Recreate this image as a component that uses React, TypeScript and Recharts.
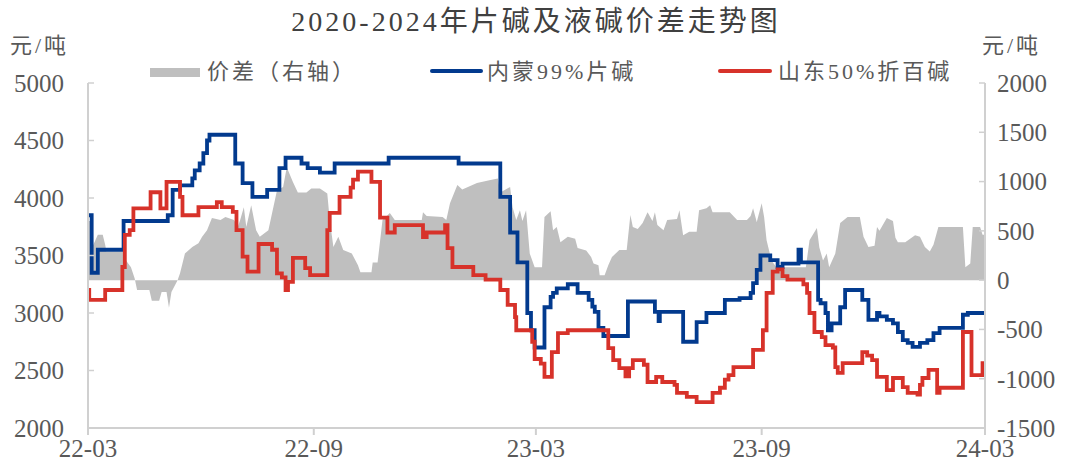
import { ComposedChart, Area, Line, XAxis, YAxis } from "recharts";

// days since 2022-03-01
const tickDays = [0, 184, 365, 549, 731];
const tickLabels = ["22-03", "22-09", "23-03", "23-09", "24-03"];
const leftTicks = [2000, 2500, 3000, 3500, 4000, 4500, 5000];
const rightTicks = [-1500, -1000, -500, 0, 500, 1000, 1500, 2000];

// 内蒙99%片碱 (元/吨)
const neimengDays = [
  0, 3, 8, 29, 65, 69, 75, 85, 87, 91, 94, 97, 99, 120, 126, 134, 146, 156, 161, 174,
  179, 189, 201, 245, 302, 336, 344, 350, 358, 361, 364, 372, 377, 379, 382, 391, 399, 408, 411, 413,
  416, 420, 440, 462, 465, 466, 485, 496, 504, 519, 531, 540, 542, 545, 548, 556, 562, 566, 579, 581,
  595, 597, 601, 603, 606, 613, 617, 631, 636, 643, 645, 651, 656, 660, 664, 668, 672, 678, 684, 689,
  694, 713, 717, 731,
];
const neimengPrice = [
  3850, 3350, 3550, 3800, 3850, 4070, 4110, 4170, 4240, 4300, 4390, 4500, 4550, 4300, 4130, 4010, 4070, 4260, 4350, 4300,
  4260, 4220, 4300, 4350, 4300, 4010, 3700, 3440, 3000, 2850, 2700, 3050, 3140, 3175, 3215, 3250, 3175, 3115, 3055, 3010,
  2870, 2800, 3100, 3010, 2930, 3010, 2750, 2920, 3000, 3115, 3130, 3175, 3260, 3375, 3500, 3460, 3400, 3430, 3550, 3440,
  3115, 3085, 3000, 2850, 2910, 3050, 3200, 3115, 2940, 3000, 2970, 2940, 2910, 2835, 2765, 2740, 2705, 2740, 2765, 2825,
  2870, 2985, 3000, 3000,
];

// 山东50%折百碱 (元/吨)
const shandongDays = [
  0, 1, 14, 28, 30, 34, 37, 51, 59, 64, 75, 77, 90, 105, 109, 118, 121, 126, 130, 139,
  150, 154, 158, 161, 163, 167, 177, 181, 195, 197, 205, 214, 216, 220, 231, 238, 244, 250, 273, 276,
  291, 293, 297, 314, 324, 336, 342, 348, 349, 362, 364, 369, 372, 378, 383, 391, 424, 428, 433, 438,
  441, 444, 453, 456, 463, 468, 478, 480, 488, 496, 509, 515, 519, 522, 526, 542, 550, 553, 558, 562,
  566, 570, 583, 586, 588, 592, 598, 601, 607, 609, 611, 615, 631, 635, 639, 643, 651, 655, 656, 664,
  668, 676, 678, 680, 685, 691, 692, 694, 713, 719, 720, 729, 731,
];
const shandongPrice = [
  3200, 3115, 3200, 3400, 3680, 3720, 3910, 4050, 3910, 4140, 4010, 3850, 3920, 3965, 3920, 3880, 3720, 3490, 3360, 3600,
  3550, 3345, 3310, 3200, 3270, 3480, 3390, 3330, 3720, 3870, 4010, 4090, 4160, 4230, 4140, 3830, 3700, 3765, 3660, 3700,
  3765, 3565, 3400, 3330, 3290, 3200, 3070, 2965, 2850, 2750, 2600, 2560, 2445, 2660, 2825, 2850, 2695, 2590, 2520, 2450,
  2520, 2590, 2550, 2400, 2445, 2400, 2375, 2305, 2270, 2225, 2305, 2350, 2420, 2460, 2530, 2680, 2850, 3175, 3360, 3380,
  3320, 3290, 3250, 3175, 3000, 2835, 2790, 2720, 2700, 2530, 2480, 2565, 2660, 2630, 2590, 2445, 2330, 2330, 2435, 2355,
  2305, 2290, 2375, 2435, 2505, 2505, 2305, 2350, 2835, 2835, 2460, 2565, 2565,
];

// 价差（右轴） (元/吨)
const spreadDays = [
  0, 2, 4, 8, 12, 14, 15, 29, 31, 35, 38, 40, 50, 52, 58, 60, 64, 66, 68, 73,
  75, 79, 85, 90, 93, 97, 101, 108, 112, 119, 122, 124, 127, 129, 133, 137, 140, 147, 154, 159,
  162, 167, 171, 178, 182, 189, 195, 197, 200, 204, 208, 215, 220, 222, 231, 232, 236, 240, 246, 250,
  272, 273, 276, 289, 292, 295, 301, 305, 317, 328, 334, 336, 344, 346, 349, 352, 354, 357, 360, 364,
  370, 372, 377, 379, 382, 385, 391, 397, 399, 406, 410, 412, 416, 417, 421, 424, 427, 433, 439, 442,
  444, 448, 452, 456, 460, 462, 464, 469, 472, 480, 482, 485, 490, 496, 498, 504, 507, 509, 523, 529,
  537, 540, 542, 545, 549, 551, 553, 557, 561, 585, 588, 594, 596, 599, 602, 604, 609, 613, 619, 629,
  632, 636, 641, 643, 645, 651, 656, 658, 660, 666, 670, 674, 678, 682, 686, 689, 693, 713, 715, 719,
  721, 727, 729, 731,
];
const spreadValue = [
  600, 600, 350, 460, 460, 360, 290, 290, 200, 130, 20, -100, -100, -210, -210, -120, -120, -280, -120, 0,
  70, 270, 335, 375, 440, 505, 630, 610, 640, 610, 540, 610, 740, 540, 760, 505, 440, 505, 910, 945,
  1145, 995, 890, 890, 930, 930, 880, 610, 335, 440, 305, 270, 150, 80, 80, 180, 180, 610, 680, 610,
  610, 690, 650, 640, 610, 780, 965, 920, 985, 1015, 1030, 890, 945, 740, 610, 710, 600, 710, 270, 130,
  130, 640, 700, 505, 540, 385, 440, 420, 325, 300, 235, 170, 150, 50, 50, 150, 235, 305, 305, 660,
  540, 520, 580, 690, 600, 690, 560, 505, 610, 620, 710, 455, 490, 490, 710, 730, 760, 690, 690, 610,
  610, 650, 730, 590, 780, 640, 405, 200, 130, 130, 405, 530, 330, 200, 270, 130, 270, 580, 640, 640,
  440, 335, 350, 540, 500, 630, 600, 430, 385, 385, 420, 455, 440, 335, 290, 360, 540, 540, 130, 170,
  540, 540, 460, 460,
];

const neimengData = neimengDays.map((d, i) => ({ d, v: neimengPrice[i] }));
const shandongData = shandongDays.map((d, i) => ({ d, v: shandongPrice[i] }));
const spreadData = spreadDays.map((d, i) => ({ d, v: spreadValue[i] }));

const FONT = '"Liberation Serif", "Times New Roman", "Noto Sans CJK SC", serif';
const TEXT = "#595959";
const BLUE = "#023a8e";
const RED = "#d7322a";
const GRAY = "#bfbfbf";
const AXIS = "#d0d0d0";

const legendText = { position: "absolute" as const, top: 58, fontSize: 22, lineHeight: "28px", letterSpacing: 3 };

export default function App() {
  return (
    <div
      style={{
        position: "absolute",
        left: 0,
        top: 0,
        width: 1072,
        height: 468,
        background: "#fff",
        fontFamily: FONT,
        color: TEXT,
      }}
    >
      <div
        style={{
          position: "absolute",
          left: 0,
          top: 4,
          width: 1072,
          textAlign: "center",
          fontSize: 28,
          lineHeight: "36px",
          color: "#404040",
          letterSpacing: 3,
        }}
      >
        2020-2024年片碱及液碱价差走势图
      </div>
      <div style={{ ...legendText, left: 10, top: 32 }}>元/吨</div>
      <div style={{ ...legendText, left: 982, top: 32 }}>元/吨</div>

      <div style={{ position: "absolute", left: 150, top: 68, width: 50, height: 9, background: GRAY }} />
      <div style={{ ...legendText, left: 207 }}>价差（右轴）</div>
      <div style={{ position: "absolute", left: 430, top: 69, width: 53, height: 4, background: BLUE, borderRadius: 2 }} />
      <div style={{ ...legendText, left: 487 }}>内蒙99%片碱</div>
      <div style={{ position: "absolute", left: 718, top: 69, width: 54, height: 4, background: RED, borderRadius: 2 }} />
      <div style={{ ...legendText, left: 778 }}>山东50%折百碱</div>

      <div style={{ position: "absolute", left: 0, top: 0 }}>
        <ComposedChart width={1072} height={468} margin={{ top: 83, right: 0, bottom: 0, left: 0 }}>
          <XAxis
            dataKey="d"
            type="number"
            domain={[0, 731]}
            ticks={tickDays}
            tickFormatter={(v) => tickLabels[tickDays.indexOf(v)] ?? ""}
            allowDataOverflow
            height={40}
            axisLine={{ stroke: AXIS, strokeWidth: 2 }}
            tickLine={{ stroke: AXIS, strokeWidth: 2 }}
            tickSize={7}
            tickMargin={4}
            tick={{ fill: TEXT, fontSize: 25, fontFamily: FONT }}
            interval={0}
          />
          <YAxis
            yAxisId="left"
            orientation="left"
            domain={[2000, 5000]}
            ticks={leftTicks}
            width={88}
            allowDataOverflow
            axisLine={{ stroke: AXIS, strokeWidth: 2 }}
            tickLine={{ stroke: AXIS, strokeWidth: 1.5 }}
            tickSize={-6}
            tickMargin={30}
            tick={{ fill: TEXT, fontSize: 25, fontFamily: FONT }}
            interval={0}
          />
          <YAxis
            yAxisId="right"
            orientation="right"
            domain={[-1500, 2000]}
            ticks={rightTicks}
            width={87}
            allowDataOverflow
            axisLine={{ stroke: AXIS, strokeWidth: 2 }}
            tickLine={{ stroke: AXIS, strokeWidth: 1.5 }}
            tickSize={-6}
            tickMargin={18}
            tick={{ fill: TEXT, fontSize: 25, fontFamily: FONT }}
            interval={0}
          />
          <Area
            yAxisId="right"
            data={spreadData}
            dataKey="v"
            type="linear"
            baseValue={0}
            stroke="none"
            fill={GRAY}
            fillOpacity={1}
            isAnimationActive={false}
          />
          <Line
            yAxisId="left"
            data={neimengData}
            dataKey="v"
            type="stepAfter"
            stroke={BLUE}
            strokeWidth={3.8}
            dot={false}
            isAnimationActive={false}
          />
          <Line
            yAxisId="left"
            data={shandongData}
            dataKey="v"
            type="stepAfter"
            stroke={RED}
            strokeWidth={3.8}
            dot={false}
            isAnimationActive={false}
          />
        </ComposedChart>
      </div>
    </div>
  );
}
